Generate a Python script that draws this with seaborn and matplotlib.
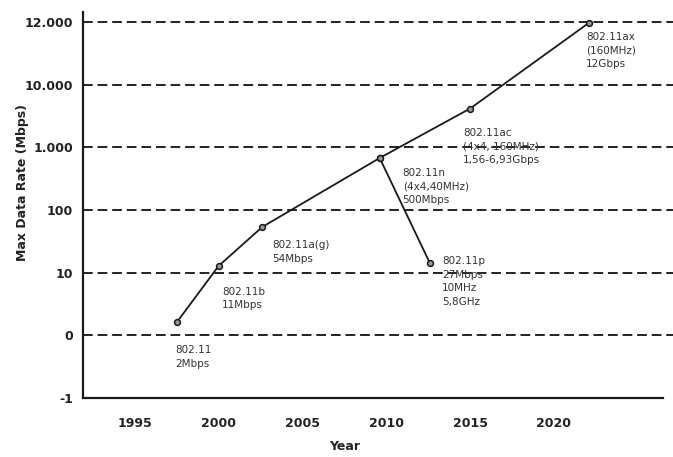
import matplotlib
matplotlib.use("Agg")
import matplotlib.pyplot as plt
import seaborn as sns
import pandas as pd

# standards along the main path, then the 802.11p branch off 802.11n
main_std = ["802.11", "802.11b", "802.11a(g)", "802.11n", "802.11ac", "802.11ax"]
main_year = [1997.5, 2000.0, 2002.6, 2009.6, 2015.0, 2022.1]
main_level = [1.21, 2.11, 2.73, 3.83, 4.62, 5.99]

branch_std = ["802.11n", "802.11p"]
branch_year = [2009.6, 2012.6]
branch_level = [3.83, 2.15]

labels = {
    "802.11": "802.11\n2Mbps",
    "802.11b": "802.11b\n11Mbps",
    "802.11a(g)": "802.11a(g)\n54Mbps",
    "802.11n": "802.11n\n(4x4,40MHz)\n500Mbps",
    "802.11ac": "802.11ac\n(4x4, 160MHz)\n1,56-6,93Gbps",
    "802.11ax": "802.11ax\n(160MHz)\n12Gbps",
    "802.11p": "802.11p\n27Mbps\n10MHz\n5,8GHz",
}
# text offsets in pixels from each point
offsets = {
    "802.11": (-2, -23), "802.11b": (3, -21), "802.11a(g)": (10, -13),
    "802.11n": (23, -10), "802.11ac": (-7, -19), "802.11ax": (-3, -9),
    "802.11p": (12, 7),
}

y_ticklabels = ["-1", "0", "10", "100", "1.000", "10.000", "12.000"]
x_ticks = [1995, 2000, 2005, 2010, 2015, 2020]

main_df = pd.DataFrame({"std": main_std, "year": main_year, "level": main_level})
branch_df = pd.DataFrame({"std": branch_std, "year": branch_year, "level": branch_level})

sns.set_style("white")
plt.rcParams["font.family"] = ["DejaVu Sans"]

fig = plt.figure(figsize=(6.73, 4.57), dpi=100)
ax = fig.add_axes([83 / 673, 59 / 457, 590 / 673, 386 / 457])

for y in range(1, len(y_ticklabels)):
    ax.axhline(y, color="#222222", lw=1.4, ls=(0, (5, 2.5)), zorder=1)

for df in (main_df, branch_df):
    sns.lineplot(data=df, x="year", y="level", sort=False, color="#1a1a1a",
                 lw=1.3, marker="o", markersize=4.2, markerfacecolor="#999999",
                 markeredgecolor="#1a1a1a", markeredgewidth=1.1, ax=ax, zorder=3)

all_df = pd.concat([main_df, branch_df.iloc[1:]])
for _, r in all_df.iterrows():
    dx, dy = offsets[r["std"]]
    ax.annotate(labels[r["std"]], (r["year"], r["level"]), xytext=(dx, dy),
                textcoords="offset pixels", ha="left", va="top", fontsize=7.5,
                color="#333333", linespacing=1.45)

ax.set_xlim(1991.9, 2027.1)
ax.set_ylim(0, 6.16)
ax.set_xticks(x_ticks)
ax.set_xticklabels([str(x) for x in x_ticks], fontsize=9, fontweight="bold", color="#222222")
ax.set_yticks(range(len(y_ticklabels)))
ax.set_yticklabels(y_ticklabels, fontsize=9, fontweight="bold", color="#222222")
ax.tick_params(axis="x", length=0, pad=14)
ax.tick_params(axis="y", length=0, pad=7)

ax.set_xlabel("Year", fontsize=9, fontweight="bold", color="#222222")
ax.set_ylabel("Max Data Rate (Mbps)", fontsize=9, fontweight="bold", color="#222222")
ax.xaxis.set_label_coords(0.444, -0.108)
ax.yaxis.set_label_coords(-0.092, 0.557)

sns.despine(ax=ax)
for s in ("left", "bottom"):
    ax.spines[s].set_color("#1a1a1a")
    ax.spines[s].set_linewidth(1.6)
ax.spines["bottom"].set_bounds(1991.9, 2026.5)

fig.savefig("out.png", dpi=100)
